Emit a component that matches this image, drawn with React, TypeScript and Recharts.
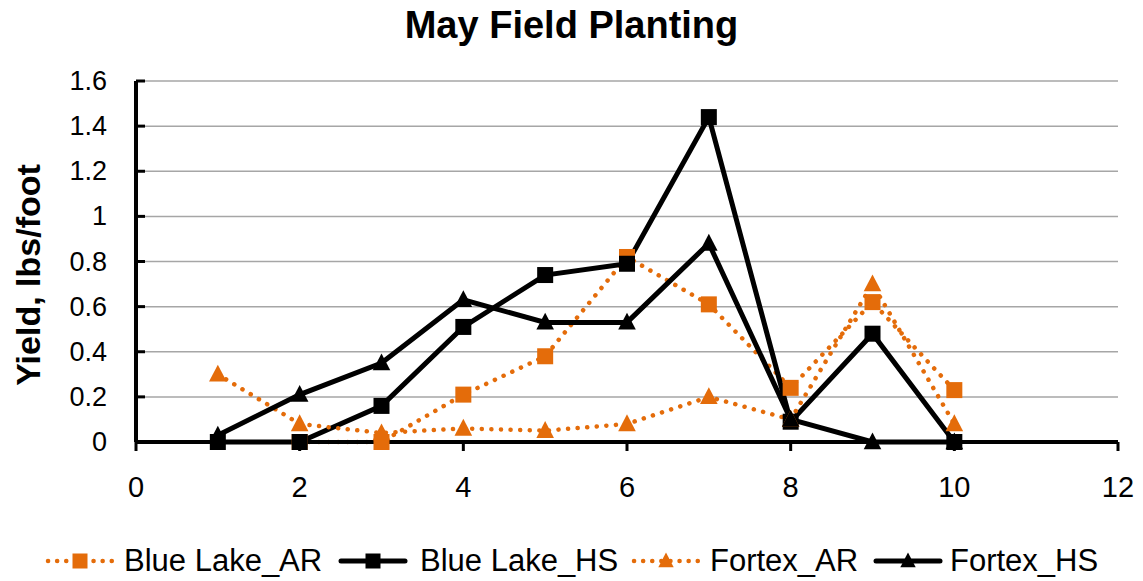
import { LineChart, Line, XAxis, YAxis, CartesianGrid } from 'recharts';

// x positions of the samples
const samples = [1, 2, 3, 4, 5, 6, 7, 8, 9, 10];

// yields, lbs/foot
const blueLakeAR = [null, 0, 0, 0.21, 0.38, 0.82, 0.61, 0.24, 0.62, 0.23];
const blueLakeHS = [0, 0, 0.16, 0.51, 0.74, 0.79, 1.44, 0.09, 0.48, 0];
const fortexAR = [0.3, 0.08, 0.04, 0.06, 0.05, 0.08, 0.2, 0.1, 0.7, 0.08];
const fortexHS = [0.03, 0.21, 0.35, 0.63, 0.53, 0.53, 0.88, 0.1, 0, 0];

const xTicks = [0, 2, 4, 6, 8, 10, 12];
const yTicks = [0, 0.2, 0.4, 0.6, 0.8, 1, 1.2, 1.4, 1.6];
const yTickLabels = ['0', '0.2', '0.4', '0.6', '0.8', '1', '1.2', '1.4', '1.6'];

const series = [
  { key: 'Blue Lake_AR', color: '#E46C0A', dotted: true, marker: 'square' },
  { key: 'Blue Lake_HS', color: '#000000', dotted: false, marker: 'square' },
  { key: 'Fortex_AR', color: '#E46C0A', dotted: true, marker: 'triangle' },
  { key: 'Fortex_HS', color: '#000000', dotted: false, marker: 'triangle' },
];

const data = samples.map((x, i) => ({
  x,
  'Blue Lake_AR': blueLakeAR[i],
  'Blue Lake_HS': blueLakeHS[i],
  Fortex_AR: fortexAR[i],
  Fortex_HS: fortexHS[i],
}));

const FONT = '"Liberation Sans", Arial, sans-serif';

function Marker({ cx, cy, color, shape, size = 16 }: any) {
  if (cx == null || cy == null) return null;
  if (shape === 'square') {
    return <rect x={cx - size / 2} y={cy - size / 2} width={size} height={size} fill={color} />;
  }
  const h = size;
  return (
    <polygon
      points={`${cx},${cy - h * 0.6} ${cx + h * 0.55},${cy + h * 0.45} ${cx - h * 0.55},${cy + h * 0.45}`}
      fill={color}
    />
  );
}

function YTick(props: any) {
  const { x, y, payload } = props;
  const i = yTicks.indexOf(payload.value);
  return (
    <g>
      <line x1={x + 29} x2={x + 38} y1={y} y2={y} stroke="#000" strokeWidth={3} />
      <text x={x} y={y} dy={9} textAnchor="end" fontSize={27} fontFamily={FONT} fill="#000">
        {yTickLabels[i] ?? payload.value}
      </text>
    </g>
  );
}

function LegendIcon({ color, dotted, marker }: any) {
  return (
    <svg width={70} height={20}>
      <line
        x1={3}
        x2={67}
        y1={10}
        y2={10}
        stroke={color}
        strokeWidth={dotted ? 4.5 : 5}
        strokeDasharray={dotted ? '0.1 9' : undefined}
        strokeLinecap="round"
      />
      <Marker cx={35} cy={10} color={color} shape={marker} size={marker === 'square' ? 15 : 14} />
    </svg>
  );
}

const legendIconLeft = [45, 338, 631, 873];
const legendTextLeft = [124, 420, 710, 950];

export default function App() {
  return (
    <div style={{ position: 'absolute', left: 0, top: 0, width: 1143, height: 581, background: '#fff', fontFamily: FONT }}>
      <div
        style={{
          position: 'absolute',
          left: 0,
          width: 1143,
          top: 4,
          textAlign: 'center',
          fontWeight: 'bold',
          fontSize: 38,
          lineHeight: '42px',
          color: '#000',
        }}
      >
        May Field Planting
      </div>
      <div
        style={{
          position: 'absolute',
          left: 28,
          top: 275,
          transform: 'translate(-50%, -50%) rotate(-90deg)',
          whiteSpace: 'nowrap',
          fontWeight: 'bold',
          fontSize: 34,
          lineHeight: '36px',
          color: '#000',
        }}
      >
        Yield, lbs/foot
      </div>
      <LineChart width={1143} height={581} data={data} margin={{ top: 81, right: 25, left: 0, bottom: 79 }}>
        <CartesianGrid vertical={false} stroke="#a6a6a6" strokeWidth={1.5} />
        <XAxis
          dataKey="x"
          type="number"
          domain={[0, 12]}
          ticks={xTicks}
          height={60}
          axisLine={{ stroke: '#000', strokeWidth: 4 }}
          tickLine={{ stroke: '#000', strokeWidth: 3 }}
          tickSize={9}
          tickMargin={25}
          tick={{ fontSize: 29, fontFamily: FONT, fill: '#000' }}
        />
        <YAxis
          type="number"
          domain={[0, 1.6]}
          ticks={yTicks}
          width={136}
          axisLine={{ stroke: '#000', strokeWidth: 4 }}
          tickLine={false}
          tickSize={0}
          tickMargin={29}
          tick={<YTick />}
        />
        {series.map((s) => (
          <Line
            key={s.key}
            dataKey={s.key}
            type="linear"
            stroke={s.color}
            strokeWidth={s.dotted ? 4.5 : 5}
            strokeDasharray={s.dotted ? '0.1 9.5' : undefined}
            strokeLinecap="round"
            connectNulls={false}
            isAnimationActive={false}
            dot={(p: any) => <Marker key={`${s.key}-${p.index}`} cx={p.cx} cy={p.cy} color={s.color} shape={s.marker} />}
            activeDot={false}
          />
        ))}
      </LineChart>
      {series.map((s, i) => (
        <div key={s.key}>
          <div style={{ position: 'absolute', left: legendIconLeft[i], top: 551 }}>
            <LegendIcon color={s.color} dotted={s.dotted} marker={s.marker} />
          </div>
          <div
            style={{
              position: 'absolute',
              left: legendTextLeft[i],
              top: 543,
              fontSize: 31,
              lineHeight: '36px',
              color: '#000',
              whiteSpace: 'nowrap',
            }}
          >
            {s.key}
          </div>
        </div>
      ))}
    </div>
  );
}
